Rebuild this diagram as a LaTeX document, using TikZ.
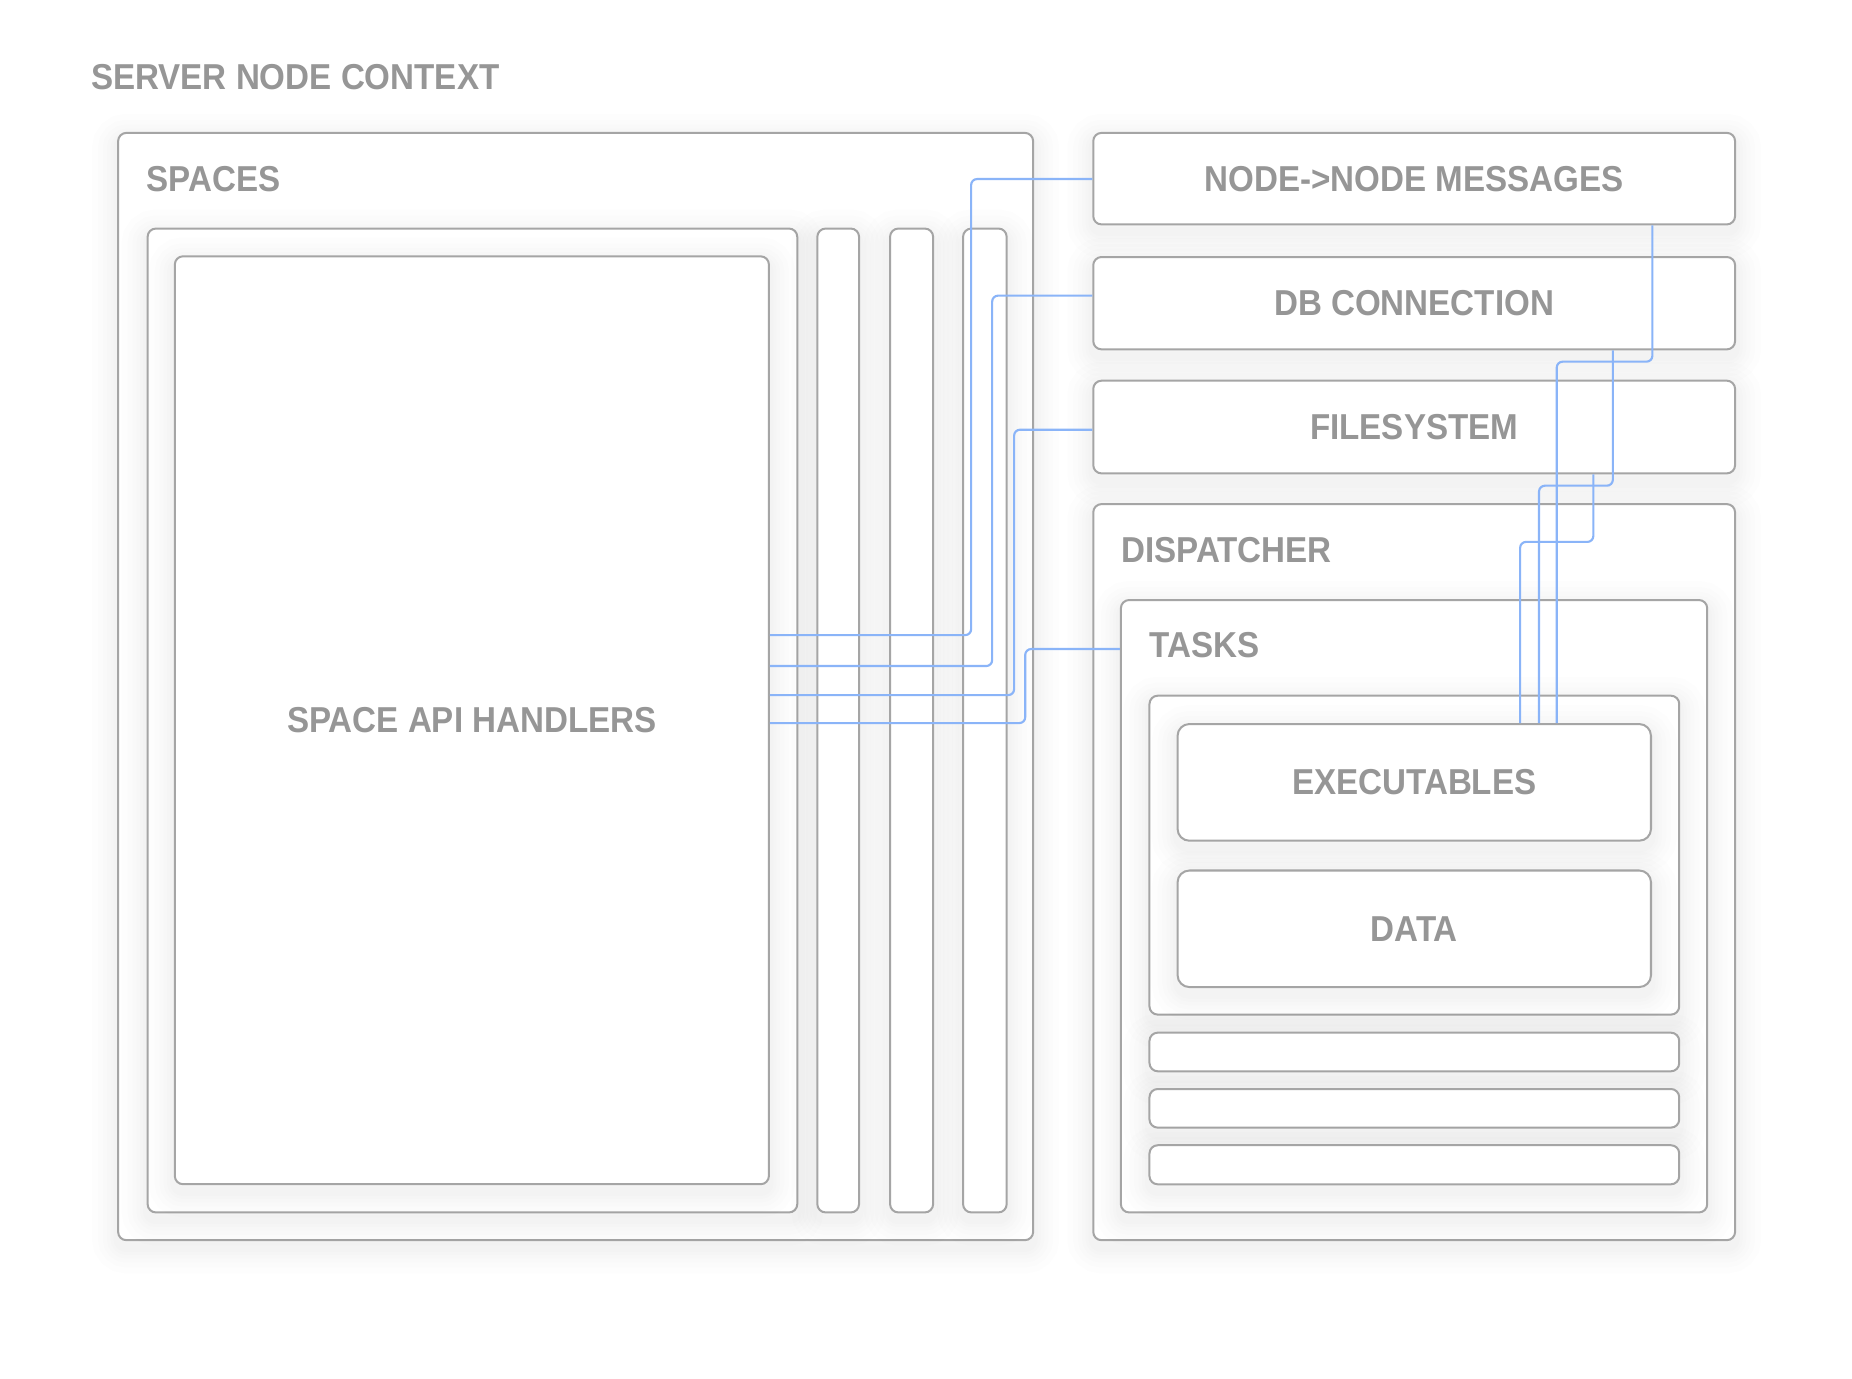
\documentclass[tikz,border=0pt]{standalone}
\usepackage{fontspec}
\setmainfont{Liberation Sans}[FakeStretch=0.92]
\usetikzlibrary{fit}
\definecolor{boxgray}{RGB}{165,165,165}
\definecolor{txtgray}{RGB}{150,150,150}
\definecolor{linkblue}{RGB}{138,180,248}
\tikzset{
  shadowring/.style={preaction={draw=black, draw opacity=0.009, line width=#1, transform canvas={yshift=-6pt}}},
  box/.style={draw=boxgray, line width=1.7pt, fill=white, rounded corners=7pt, inner sep=0pt,
    shadowring=44pt, shadowring=34pt, shadowring=26pt, shadowring=19pt, shadowring=13pt, shadowring=8pt},
  softbox/.style={box, rounded corners=10pt},
  lbl/.style={font=\bfseries\fontsize{30.5}{36}\selectfont, text=txtgray, inner sep=0pt},
  link/.style={draw=linkblue, line width=1.8pt, rounded corners=5pt},
}
\begin{document}
\begin{tikzpicture}[x=1pt, y=-1pt]
\fill[white] (0,0) rectangle (1568,1166.7);
\useasboundingbox (0,0) rectangle (1568,1166.7);

% title
\node[lbl, anchor=base west] (title) at (77,76) {SERVER NODE CONTEXT};

% spaces
\node[box, fit={(100,112.5) (874.7,1050)}] (spaces) {};
\node[lbl, anchor=base west] (spaceslbl) at (124,162) {SPACES};
\node[box, fit={(125,193.5) (675,1026.5)}] (spacein) {};
\node[box, fit={(148,217) (651,1002.6)}] (api) {};
\node[lbl, anchor=base] (apilbl) at ([yshift=-10pt]api.center) {SPACE API HANDLERS};
\node[box, fit={(692,193.5) (727.3,1026.5)}] (col1) {};
\node[box, fit={(753.6,193.5) (790,1026.5)}] (col2) {};
\node[box, fit={(815.4,193.5) (852.3,1026.5)}] (col3) {};

% right column
\node[box, fit={(925.6,112.5) (1469,190)}] (msg) {};
\node[lbl, anchor=base] (msglbl) at ([yshift=-10.5pt]msg.center) {NODE->NODE MESSAGES};
\node[box, fit={(925.6,217.6) (1469,295.8)}] (db) {};
\node[lbl, anchor=base] (dblbl) at ([yshift=-10.5pt]db.center) {DB CONNECTION};
\node[box, fit={(925.6,322.3) (1469,400.8)}] (fs) {};
\node[lbl, anchor=base] (fslbl) at ([yshift=-10.5pt]fs.center) {FILESYSTEM};
\node[box, fit={(925.6,426.8) (1469,1050)}] (disp) {};
\node[lbl, anchor=base west] (displbl) at (949,476) {DISPATCHER};
\node[box, fit={(949,508) (1445.4,1026.5)}] (tasks) {};
\node[lbl, anchor=base west] (taskslbl) at (973,557) {TASKS};
\node[box, fit={(973.2,589) (1421.7,859)}] (taskin) {};
\node[softbox, fit={(997,613) (1397.8,711.8)}] (exec) {};
\node[lbl, anchor=base] (execlbl) at ([yshift=-10.5pt]exec.center) {EXECUTABLES};
\node[softbox, fit={(997,737) (1397.8,835.7)}] (data) {};
\node[lbl, anchor=base] (datalbl) at ([yshift=-10.5pt]data.center) {DATA};
\node[box, fit={(973.2,874.3) (1421.7,907)}] (bar1) {};
\node[box, fit={(973.2,922) (1421.7,954.7)}] (bar2) {};
\node[box, fit={(973.2,969.6) (1421.7,1002.7)}] (bar3) {};

% connector turning points
\coordinate (l1) at (822.2,537.7);
\coordinate (m1) at (822.2,151.6);
\coordinate (l2) at (840,563.9);
\coordinate (m2) at (840,250.3);
\coordinate (l3) at (858.6,588.5);
\coordinate (m3) at (858.6,363.8);
\coordinate (l4) at (868,612.2);
\coordinate (m4) at (868,549.5);

\coordinate (a1) at (1399,306.2);
\coordinate (a2) at (1318,306.2);
\coordinate (b1) at (1365.5,411.2);
\coordinate (b2) at (1303,411.2);
\coordinate (c1) at (1349,458.8);
\coordinate (c2) at (1287,458.8);

% connectors
\draw[link] (api.east |- l1) -- (l1) -- (m1) -- (msg.west |- m1);
\draw[link] (api.east |- l2) -- (l2) -- (m2) -- (db.west |- m2);
\draw[link] (api.east |- l3) -- (l3) -- (m3) -- (fs.west |- m3);
\draw[link] (api.east |- l4) -- (l4) -- (m4) -- (tasks.west |- m4);

\draw[link] (msg.south -| a1) -- (a1) -- (a2) -- (exec.north -| a2);
\draw[link] (db.south -| b1) -- (b1) -- (b2) -- (exec.north -| b2);
\draw[link] (fs.south -| c1) -- (c1) -- (c2) -- (exec.north -| c2);
\end{tikzpicture}
\end{document}
